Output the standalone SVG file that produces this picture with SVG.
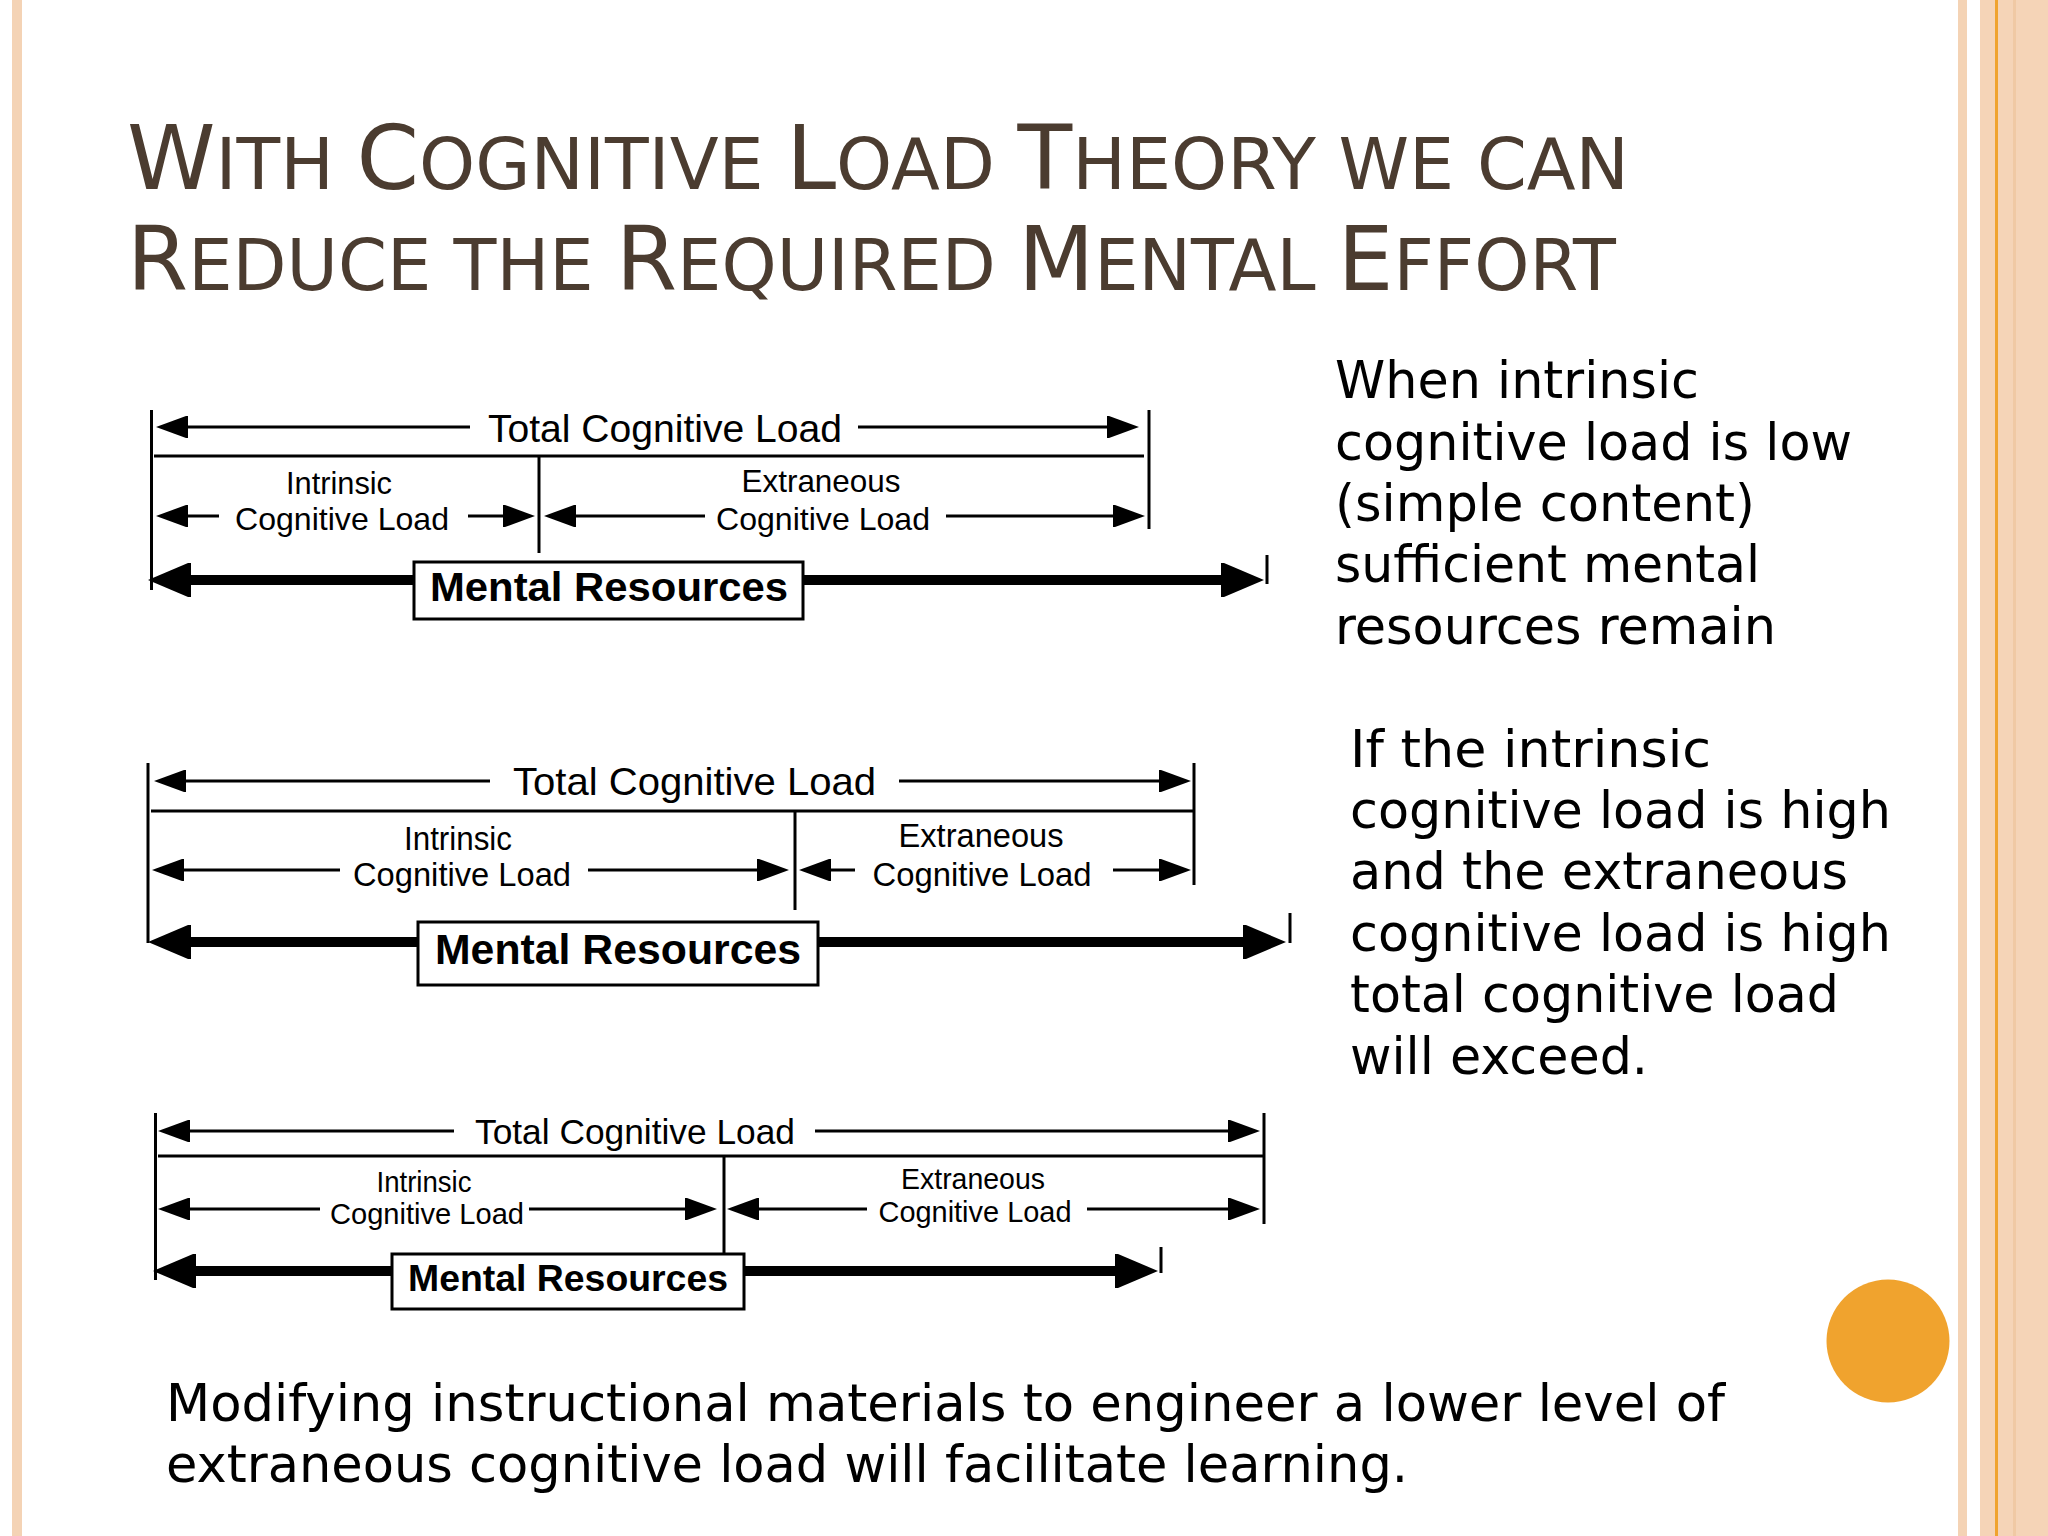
<svg xmlns="http://www.w3.org/2000/svg" xmlns:xlink="http://www.w3.org/1999/xlink" width="2048" height="1536" viewBox="0 0 2048 1536">
<defs>
<style>
.title{font-family:"DejaVu Sans","Liberation Sans",sans-serif;font-size:71px;fill:#4b3c30}
.big{font-size:89px}
.body{font-family:"DejaVu Sans","Liberation Sans",sans-serif;font-size:52px;fill:#000}
.lbl{font-family:"Liberation Sans",Arial,sans-serif;fill:#000;text-anchor:middle}
.mr{font-family:"Liberation Sans",Arial,sans-serif;font-weight:bold;fill:#000;text-anchor:middle}
.thin{stroke:#000;stroke-width:3;fill:none}
.thick{stroke:#000;stroke-width:10;fill:none}
.box{fill:#fff;stroke:#000;stroke-width:3}
</style>
<path id="ah" d="M0,0 L-30,-11 L-32,-11 L-32,11 L-30,11 Z" fill="#000"/>
<path id="bh" d="M0,0 L-40,-17 L-43,-17 L-43,17 L-40,17 Z" fill="#000"/>
</defs>
<rect width="2048" height="1536" fill="#fff"/>
<g id="border">
<rect x="12" y="0" width="10" height="1536" fill="#f4d3b5"/>
<rect x="1958" y="0" width="9" height="1536" fill="#f4d3b5"/>
<rect x="1980" y="0" width="68" height="1536" fill="#f5d4b7"/>
<rect x="1995" y="0" width="3" height="1536" fill="#f0a32e"/>
<rect x="2013" y="0" width="3" height="1536" fill="#f0c9a4"/>
</g>
<circle id="dot" cx="1888" cy="1341" r="61.5" fill="#f0a32e"/>
<g id="title">
<text class="title" x="127" y="189" textLength="1502" lengthAdjust="spacingAndGlyphs"><tspan class="big">W</tspan>ITH <tspan class="big">C</tspan>OGNITIVE <tspan class="big">L</tspan>OAD <tspan class="big">T</tspan>HEORY WE CAN</text>
<text class="title" x="127" y="290" textLength="1489" lengthAdjust="spacingAndGlyphs"><tspan class="big">R</tspan>EDUCE THE <tspan class="big">R</tspan>EQUIRED <tspan class="big">M</tspan>ENTAL <tspan class="big">E</tspan>FFORT</text>
</g>
<g id="text-low">
<text class="body" x="1335" y="398" textLength="364" lengthAdjust="spacingAndGlyphs">When intrinsic</text>
<text class="body" x="1335" y="460" textLength="517" lengthAdjust="spacingAndGlyphs">cognitive load is low</text>
<text class="body" x="1335" y="521" textLength="420" lengthAdjust="spacingAndGlyphs">(simple content)</text>
<text class="body" x="1335" y="582" textLength="425" lengthAdjust="spacingAndGlyphs">sufficient mental</text>
<text class="body" x="1335" y="644" textLength="441" lengthAdjust="spacingAndGlyphs">resources remain</text>
</g>
<g id="text-high">
<text class="body" x="1350" y="767" textLength="361" lengthAdjust="spacingAndGlyphs">If the intrinsic</text>
<text class="body" x="1350" y="828" textLength="541" lengthAdjust="spacingAndGlyphs">cognitive load is high</text>
<text class="body" x="1350" y="889" textLength="498" lengthAdjust="spacingAndGlyphs">and the extraneous</text>
<text class="body" x="1350" y="951" textLength="541" lengthAdjust="spacingAndGlyphs">cognitive load is high</text>
<text class="body" x="1350" y="1012" textLength="489" lengthAdjust="spacingAndGlyphs">total cognitive load</text>
<text class="body" x="1350" y="1074" textLength="298" lengthAdjust="spacingAndGlyphs">will exceed.</text>
</g>
<g id="text-bottom">
<text class="body" x="166" y="1421" textLength="1559" lengthAdjust="spacingAndGlyphs">Modifying instructional materials to engineer a lower level of</text>
<text class="body" x="166" y="1482" textLength="1242" lengthAdjust="spacingAndGlyphs">extraneous cognitive load will facilitate learning.</text>
</g>

<!-- Diagram 1 -->
<g id="d1">
<g id="d1-connectors">
<line class="thin" x1="151.5" y1="410" x2="151.5" y2="590"/>
<line class="thin" x1="1149" y1="410" x2="1149" y2="529"/>
<line class="thin" x1="154" y1="456" x2="1144" y2="456"/>
<line class="thin" x1="539" y1="456" x2="539" y2="553"/>
<line class="thin" x1="1267" y1="555" x2="1267" y2="584"/>
<line class="thin" x1="170" y1="427" x2="470" y2="427"/>
<line class="thin" x1="858" y1="427" x2="1120" y2="427"/>
<use href="#ah" transform="translate(156,427) scale(-1,1)"/>
<use href="#ah" transform="translate(1139,427)"/>
<line class="thin" x1="170" y1="516" x2="219" y2="516"/>
<line class="thin" x1="468" y1="516" x2="510" y2="516"/>
<use href="#ah" transform="translate(156,516) scale(-1,1)"/>
<use href="#ah" transform="translate(535,516)"/>
<line class="thin" x1="560" y1="516" x2="705" y2="516"/>
<line class="thin" x1="946" y1="516" x2="1125" y2="516"/>
<use href="#ah" transform="translate(544,516) scale(-1,1)"/>
<use href="#ah" transform="translate(1145,516)"/>
<line class="thick" x1="175" y1="580" x2="414" y2="580"/>
<line class="thick" x1="803" y1="580" x2="1235" y2="580"/>
<use href="#bh" transform="translate(148,580) scale(-1,1)"/>
<use href="#bh" transform="translate(1264,580)"/>
</g>
<text class="lbl" x="665" y="442" font-size="38" textLength="354" lengthAdjust="spacingAndGlyphs">Total Cognitive Load</text>
<text class="lbl" x="339" y="494" font-size="32" textLength="106" lengthAdjust="spacingAndGlyphs">Intrinsic</text>
<text class="lbl" x="342" y="530" font-size="32" textLength="214" lengthAdjust="spacingAndGlyphs">Cognitive Load</text>
<text class="lbl" x="821" y="492" font-size="32" textLength="159" lengthAdjust="spacingAndGlyphs">Extraneous</text>
<text class="lbl" x="823" y="530" font-size="32" textLength="214" lengthAdjust="spacingAndGlyphs">Cognitive Load</text>
<g id="d1-box">
<rect class="box" x="414" y="562" width="389" height="57"/>
<text class="mr" x="609" y="601" font-size="41" textLength="358" lengthAdjust="spacingAndGlyphs">Mental Resources</text>
</g>
</g>

<!-- Diagram 2 -->
<g id="d2">
<g id="d2-connectors">
<line class="thin" x1="148" y1="763" x2="148" y2="943"/>
<line class="thin" x1="1194" y1="763" x2="1194" y2="885"/>
<line class="thin" x1="151" y1="811" x2="1194" y2="811"/>
<line class="thin" x1="795" y1="811" x2="795" y2="910"/>
<line class="thin" x1="1290" y1="913" x2="1290" y2="943"/>
<line class="thin" x1="170" y1="781" x2="490" y2="781"/>
<line class="thin" x1="899" y1="781" x2="1170" y2="781"/>
<use href="#ah" transform="translate(154,781) scale(-1,1)"/>
<use href="#ah" transform="translate(1191,781)"/>
<line class="thin" x1="170" y1="870" x2="340" y2="870"/>
<line class="thin" x1="588" y1="870" x2="765" y2="870"/>
<use href="#ah" transform="translate(152,870) scale(-1,1)"/>
<use href="#ah" transform="translate(789,870)"/>
<line class="thin" x1="815" y1="870" x2="855" y2="870"/>
<line class="thin" x1="1113" y1="870" x2="1170" y2="870"/>
<use href="#ah" transform="translate(799,870) scale(-1,1)"/>
<use href="#ah" transform="translate(1191,870)"/>
<line class="thick" x1="175" y1="942" x2="418" y2="942"/>
<line class="thick" x1="818" y1="942" x2="1255" y2="942"/>
<use href="#bh" transform="translate(148,942) scale(-1,1)"/>
<use href="#bh" transform="translate(1286,942)"/>
</g>
<text class="lbl" x="694.5" y="795" font-size="39" textLength="363" lengthAdjust="spacingAndGlyphs">Total Cognitive Load</text>
<text class="lbl" x="458" y="850" font-size="33" textLength="108" lengthAdjust="spacingAndGlyphs">Intrinsic</text>
<text class="lbl" x="462" y="886" font-size="33" textLength="218" lengthAdjust="spacingAndGlyphs">Cognitive Load</text>
<text class="lbl" x="981" y="847" font-size="33" textLength="165" lengthAdjust="spacingAndGlyphs">Extraneous</text>
<text class="lbl" x="982" y="886" font-size="33" textLength="219" lengthAdjust="spacingAndGlyphs">Cognitive Load</text>
<g id="d2-box">
<rect class="box" x="418" y="922" width="400" height="63"/>
<text class="mr" x="618" y="964" font-size="43" textLength="366" lengthAdjust="spacingAndGlyphs">Mental Resources</text>
</g>
</g>

<!-- Diagram 3 -->
<g id="d3">
<g id="d3-connectors">
<line class="thin" x1="155.5" y1="1113" x2="155.5" y2="1280"/>
<line class="thin" x1="1264" y1="1113" x2="1264" y2="1224"/>
<line class="thin" x1="158" y1="1156" x2="1264" y2="1156"/>
<line class="thin" x1="724" y1="1156" x2="724" y2="1262"/>
<line class="thin" x1="1161" y1="1247" x2="1161" y2="1273"/>
<line class="thin" x1="175" y1="1131" x2="454" y2="1131"/>
<line class="thin" x1="815" y1="1131" x2="1235" y2="1131"/>
<use href="#ah" transform="translate(158,1131) scale(-1,1)"/>
<use href="#ah" transform="translate(1260,1131)"/>
<line class="thin" x1="175" y1="1209" x2="320" y2="1209"/>
<line class="thin" x1="529" y1="1209" x2="695" y2="1209"/>
<use href="#ah" transform="translate(158,1209) scale(-1,1)"/>
<use href="#ah" transform="translate(717,1209)"/>
<line class="thin" x1="740" y1="1209" x2="867" y2="1209"/>
<line class="thin" x1="1087" y1="1209" x2="1235" y2="1209"/>
<use href="#ah" transform="translate(727,1209) scale(-1,1)"/>
<use href="#ah" transform="translate(1260,1209)"/>
<line class="thick" x1="180" y1="1271" x2="392" y2="1271"/>
<line class="thick" x1="744" y1="1271" x2="1130" y2="1271"/>
<use href="#bh" transform="translate(153,1271) scale(-1,1)"/>
<use href="#bh" transform="translate(1158,1271)"/>
</g>
<text class="lbl" x="635" y="1144" font-size="35" textLength="320" lengthAdjust="spacingAndGlyphs">Total Cognitive Load</text>
<text class="lbl" x="424" y="1192" font-size="29" textLength="95" lengthAdjust="spacingAndGlyphs">Intrinsic</text>
<text class="lbl" x="427" y="1224" font-size="29" textLength="194" lengthAdjust="spacingAndGlyphs">Cognitive Load</text>
<text class="lbl" x="973" y="1189" font-size="29" textLength="144" lengthAdjust="spacingAndGlyphs">Extraneous</text>
<text class="lbl" x="975" y="1222" font-size="29" textLength="193" lengthAdjust="spacingAndGlyphs">Cognitive Load</text>
<g id="d3-box">
<rect class="box" x="392" y="1254" width="352" height="55"/>
<text class="mr" x="568" y="1291" font-size="37" textLength="320" lengthAdjust="spacingAndGlyphs">Mental Resources</text>
</g>
</g>
</svg>
